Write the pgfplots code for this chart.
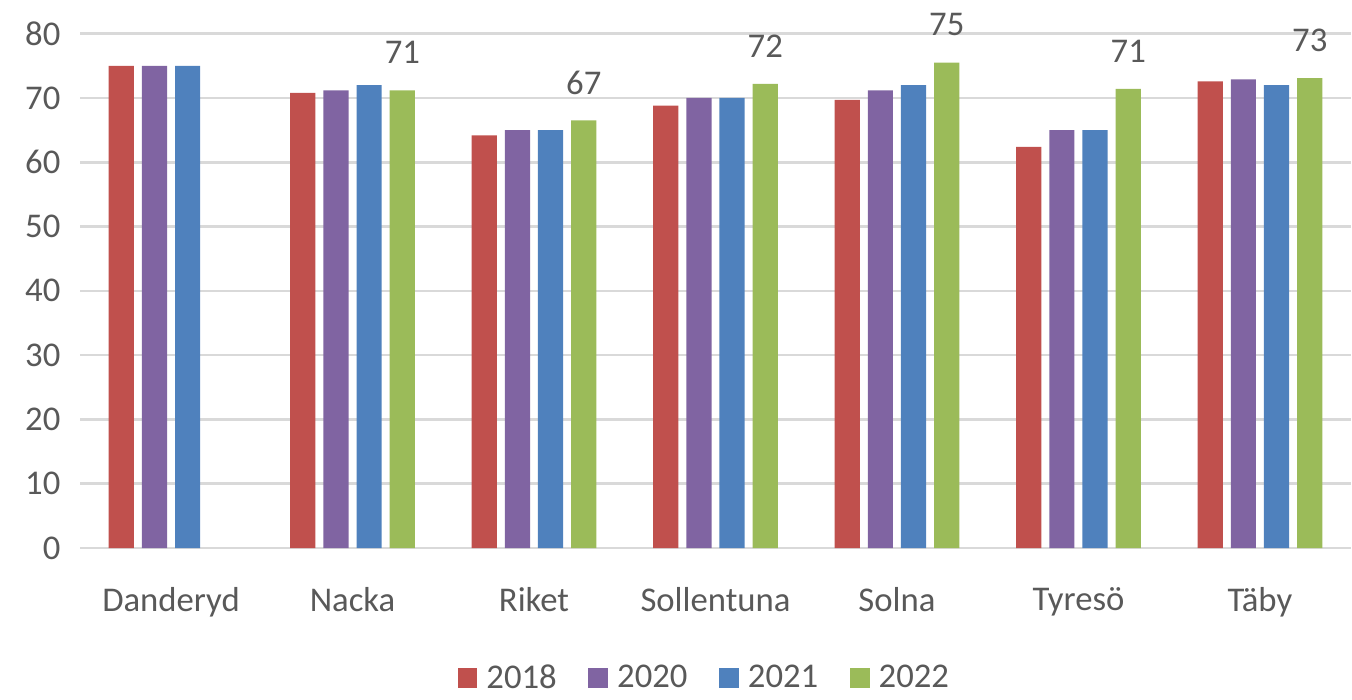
\documentclass[border=0pt]{standalone}
\usepackage{fontspec}
\setmainfont{Carlito}
\usepackage{pgfplots}
\pgfplotsset{compat=1.18}
\definecolor{cA}{HTML}{C0504D}
\definecolor{cB}{HTML}{8064A2}
\definecolor{cC}{HTML}{4F81BD}
\definecolor{cD}{HTML}{9BBB59}
\definecolor{txt}{HTML}{595959}
\definecolor{grd}{HTML}{D9D9D9}
\begin{document}
\begin{tikzpicture}
\begin{axis}[
  name=ax,
  scale only axis,
  width=641pt, height=259.5pt,
  xmin=-0.5, xmax=6.5, ymin=0, ymax=80,
  ytick={0,10,...,80},
  xtick={0,...,6},
  xticklabels={Danderyd,Nacka,Riket,Sollentuna,Solna,Tyresö,Täby},
  major tick length=0pt,
  axis lines*=left,
  axis line style={draw=none},
  ymajorgrids,
  major grid style={draw=grd, line width=1.3pt},
  tick label style={font=\fontsize{17.5}{20}\selectfont, text=txt},
  /pgf/number format/assume math mode=true,
  yticklabel style={xshift=-6.5pt},
  xticklabel style={yshift=-16.5pt},
  ybar, bar width=0.139,
  legend columns=4,
  legend style={draw=none, at={(0.492,-0.253)}, anchor=center,
    font=\fontsize{17.5}{20}\selectfont, text=txt,
    /tikz/every even column/.append style={column sep=14pt}},
  legend image code/.code={\fill (0pt,-5pt) rectangle (10pt,5pt); \path (12.5pt,0pt);},
  nodes near coords style={font=\fontsize{17.5}{20}\selectfont, text=txt, anchor=center, yshift=19pt},
]
\addplot[fill=cA, draw=none, bar shift=-0.2745] coordinates {(0,75) (1,70.8) (2,64.2) (3,68.8) (4,69.7) (5,62.4) (6,72.6)};
\addlegendentry{2018}
\addplot[fill=cB, draw=none, bar shift=-0.0915] coordinates {(0,75) (1,71.2) (2,65.0) (3,70.0) (4,71.2) (5,65.0) (6,72.9)};
\addlegendentry{2020}
\addplot[fill=cC, draw=none, bar shift=0.0915] coordinates {(0,75) (1,72.0) (2,65.0) (3,70.0) (4,72.0) (5,65.0) (6,72.0)};
\addlegendentry{2021}
\addplot[fill=cD, draw=none, bar shift=0.2745, point meta=explicit symbolic, nodes near coords] coordinates {(1,71.2) [71] (2,66.5) [67] (3,72.2) [72] (4,75.5) [75] (5,71.4) [71] (6,73.1) [73]};
\addlegendentry{2022}
\end{axis}
\path[use as bounding box] ([shift={(-40.5pt,-69pt)}]ax.south west) rectangle ([shift={(-5.5pt,17pt)}]ax.north east);
\end{tikzpicture}
\end{document}
